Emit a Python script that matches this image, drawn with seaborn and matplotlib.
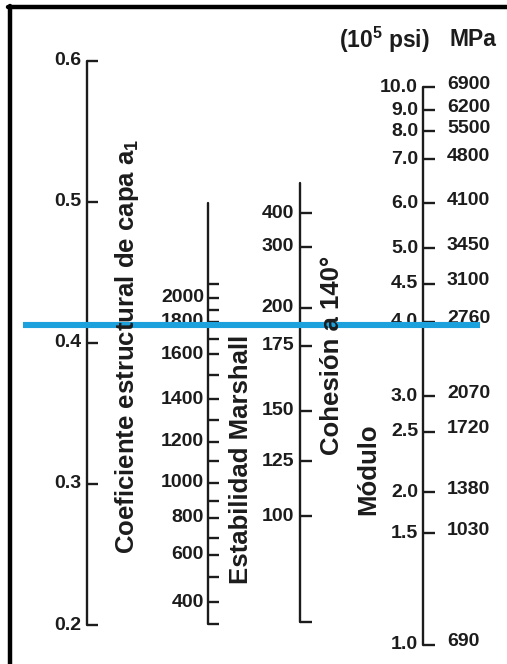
import matplotlib
matplotlib.use("Agg")
import matplotlib.pyplot as plt
from matplotlib.lines import Line2D
import pandas as pd
import seaborn as sns

# ---- nomograph data -------------------------------------------------------
# Structural layer coefficient a1 (shared linear vertical scale)
a1_ticks = [0.6, 0.5, 0.4, 0.3, 0.2]
a1_labels = ["0.6", "0.5", "0.4", "0.3", "0.2"]

# Marshall stability (lb) and the a1 value each graduation lines up with
marshall_values = [2100, 2000, 1900, 1800, 1700, 1600, 1500, 1400, 1300, 1200,
                   1100, 1000, 900, 800, 700, 600, 500, 400, 300]
marshall_a1 = [0.442, 0.432, 0.423, 0.415, 0.403, 0.392, 0.377, 0.360, 0.345, 0.330,
               0.316, 0.301, 0.288, 0.276, 0.262, 0.250, 0.234, 0.216, 0.201]
marshall_labelled = [2000, 1800, 1600, 1400, 1200, 1000, 800, 600, 400]
marshall_span = [0.499, 0.201]

# Cohesiometer value at 140 deg F and matching a1
cohesion_values = [400, 300, 200, 175, 150, 125, 100]
cohesion_a1 = [0.492, 0.468, 0.425, 0.398, 0.352, 0.316, 0.277]
cohesion_span = [0.513, 0.202]

# Elastic modulus: 10^5 psi and MPa, with matching a1
modulus_psi = ["10.0", "9.0", "8.0", "7.0", "6.0", "5.0", "4.5", "4.0",
               "3.0", "2.5", "2.0", "1.5", "1.0"]
modulus_mpa = ["6900", "6200", "5500", "4800", "4100", "3450", "3100", "2760",
               "2070", "1720", "1380", "1030", "690"]
modulus_a1 = [0.581, 0.565, 0.550, 0.530, 0.499, 0.467, 0.442, 0.415,
              0.362, 0.337, 0.294, 0.265, 0.186]

# Reading line drawn across the chart
reading_a1 = 0.413

# ---- figure ---------------------------------------------------------------
W, H, DPI = 507, 664, 100
sns.set_theme(style="white")
plt.rcParams["font.family"] = ["Liberation Sans", "DejaVu Sans"]
plt.rcParams["mathtext.fontset"] = "custom"
plt.rcParams["mathtext.rm"] = "Liberation Sans:bold"
plt.rcParams["mathtext.bf"] = "Liberation Sans:bold"

INK = "#1c1c1c"
BLUE = "#1da1dd"
fig = plt.figure(figsize=(W / DPI, H / DPI), dpi=DPI)
fig.patch.set_facecolor("white")
ax = fig.add_axes([0, 0, 1, 1])
ax.set_xlim(0, W)
ax.set_ylim(0.1724, 0.643)
ax.axis("off")

TICK_FS = 14
TITLE_FS = 18.5
LW = 1.7


def scale_line(x, span):
    df = pd.DataFrame({"x": [x, x], "y": list(span)})
    sns.lineplot(data=df, x="x", y="y", ax=ax, color=INK, lw=LW,
                 estimator=None, sort=False, orient="y")


def ticks(x, ys, length):
    ax.hlines(ys, x - 0.5, x + length, colors=INK, lw=LW)


def labels(x, ys, texts, ha="right", dy=0.0):
    for y, t in zip(ys, texts):
        ax.text(x, y + dy, t, ha=ha, va="center", fontsize=TICK_FS,
                fontweight="bold", color=INK)


# a1 scale
X_A1 = 87
scale_line(X_A1, [a1_ticks[0], a1_ticks[-1]])
ticks(X_A1, a1_ticks, 11)
labels(X_A1 - 6, a1_ticks, a1_labels)

# Marshall stability scale
X_MS = 208
scale_line(X_MS, marshall_span)
ms = pd.DataFrame({"value": marshall_values, "a1": marshall_a1})
ticks(X_MS, ms["a1"], 11)
lab = ms[ms["value"].isin(marshall_labelled)]
labels(X_MS - 4, lab["a1"], lab["value"].astype(str))

# Cohesion scale
X_CO = 300
scale_line(X_CO, cohesion_span)
ticks(X_CO, cohesion_a1 + [cohesion_span[1]], 12)
labels(X_CO - 6, cohesion_a1, [str(v) for v in cohesion_values])

# Modulus scale
X_MO = 423
scale_line(X_MO, [modulus_a1[0], modulus_a1[-1]])
ticks(X_MO, modulus_a1, 12)
labels(X_MO - 5, modulus_a1, modulus_psi)
labels(X_MO + 24, modulus_a1, modulus_mpa, ha="left", dy=0.002)

# Reading line
line = pd.DataFrame({"x": [23, 480], "y": [reading_a1, reading_a1]})
sns.lineplot(data=line, x="x", y="y", ax=ax, color=BLUE, lw=4.4,
             estimator=None, sort=False)
ax.lines[-1].set_zorder(10)
ax.lines[-1].set_solid_capstyle("butt")


# Rotated scale titles, placed in pixel positions of the page
def fig_text(px, py, s, **kw):
    fig.text(px / W, 1 - py / H, s, fontweight="bold", color=INK, **kw)


fig_text(127, 346, r"Coeficiente estructural de capa a$_{\mathbf{1}}$",
         rotation=90, ha="center", va="center", fontsize=TITLE_FS)
fig_text(241, 459, "Estabilidad Marshall", rotation=90, ha="center",
         va="center", fontsize=TITLE_FS)
fig_text(332, 355, "Cohesión a 140°", rotation=90, ha="center",
         va="center", fontsize=TITLE_FS)
fig_text(368, 469, "Módulo", rotation=90, ha="center", va="center",
         fontsize=TITLE_FS)

# Unit headers
fig_text(384, 40, r"(10$^{\mathbf{5}}$ psi)", ha="center", va="center",
         fontsize=16.5)
fig_text(473, 40, "MPa", ha="center", va="center", fontsize=16.5)

# Page frame (top and left edges)
fig.add_artist(Line2D([8 / W, 1], [1 - 7 / H, 1 - 7 / H],
                      transform=fig.transFigure, color="black", lw=3.2))
fig.add_artist(Line2D([10 / W, 10 / W], [0, 1 - 5.5 / H],
                      transform=fig.transFigure, color="black", lw=3.2))

fig.savefig("out.png", dpi=DPI, facecolor="white")
